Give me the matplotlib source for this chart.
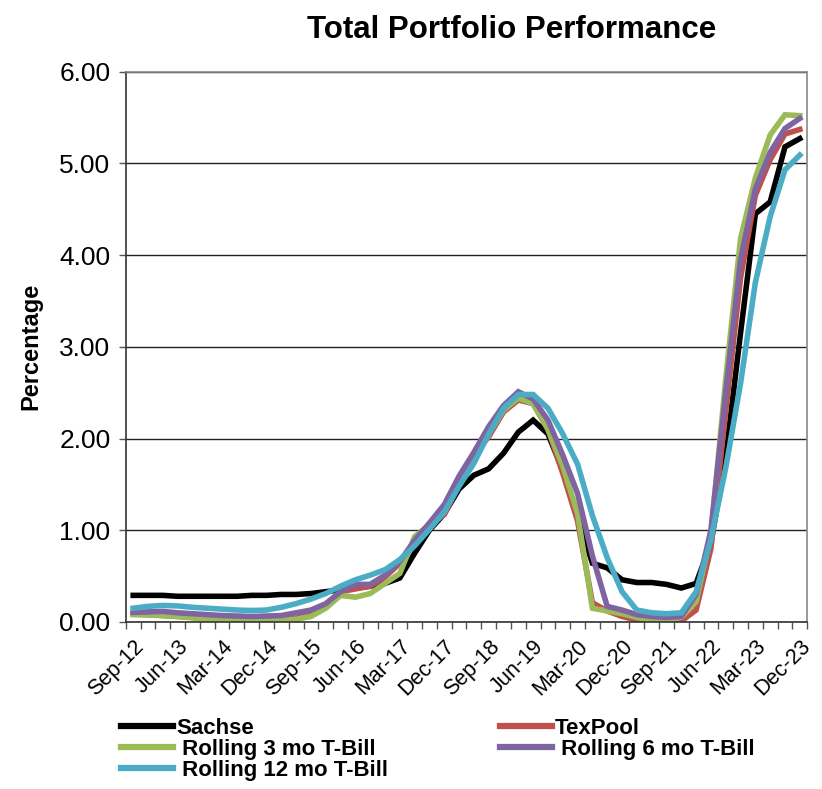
import matplotlib
matplotlib.use("Agg")
import matplotlib.pyplot as plt
import numpy as np

plt.rcParams['font.family'] = ['Liberation Sans', 'DejaVu Sans']

quarters = ["Sep-12", "Dec-12", "Mar-13", "Jun-13", "Sep-13", "Dec-13", "Mar-14", "Jun-14",
            "Sep-14", "Dec-14", "Mar-15", "Jun-15", "Sep-15", "Dec-15", "Mar-16", "Jun-16",
            "Sep-16", "Dec-16", "Mar-17", "Jun-17", "Sep-17", "Dec-17", "Mar-18", "Jun-18",
            "Sep-18", "Dec-18", "Mar-19", "Jun-19", "Sep-19", "Dec-19", "Mar-20", "Jun-20",
            "Sep-20", "Dec-20", "Mar-21", "Jun-21", "Sep-21", "Dec-21", "Mar-22", "Jun-22",
            "Sep-22", "Dec-22", "Mar-23", "Jun-23", "Sep-23", "Dec-23"]

sachse = [0.29, 0.29, 0.29, 0.28, 0.28, 0.28, 0.28, 0.28, 0.29, 0.29, 0.30, 0.30,
          0.31, 0.33, 0.35, 0.37, 0.39, 0.42, 0.48, 0.75, 1.00, 1.18, 1.45, 1.60,
          1.67, 1.84, 2.07, 2.20, 2.05, 1.65, 1.15, 0.64, 0.59, 0.46, 0.43, 0.43,
          0.41, 0.37, 0.42, 0.86, 1.80, 3.15, 4.45, 4.58, 5.18, 5.27]

texpool = [0.09, 0.08, 0.07, 0.06, 0.05, 0.03, 0.04, 0.04, 0.03, 0.02, 0.02, 0.04,
           0.09, 0.17, 0.33, 0.36, 0.39, 0.49, 0.64, 0.88, 1.06, 1.17, 1.50, 1.82,
           2.02, 2.29, 2.42, 2.38, 2.10, 1.62, 1.10, 0.21, 0.12, 0.06, 0.02, 0.00,
           0.00, 0.01, 0.13, 0.80, 2.30, 3.75, 4.65, 5.04, 5.32, 5.37]

tbill_3mo = [0.08, 0.075, 0.07, 0.06, 0.045, 0.025, 0.02, 0.02, 0.02, 0.02, 0.02, 0.03,
             0.06, 0.15, 0.29, 0.27, 0.31, 0.42, 0.53, 0.93, 1.06, 1.20, 1.50, 1.80,
             2.05, 2.31, 2.44, 2.38, 2.10, 1.70, 1.18, 0.15, 0.12, 0.09, 0.05, 0.02,
             0.02, 0.05, 0.22, 0.95, 2.65, 4.18, 4.84, 5.31, 5.53, 5.52]

tbill_6mo = [0.105, 0.11, 0.115, 0.10, 0.09, 0.08, 0.07, 0.065, 0.06, 0.065, 0.07, 0.10,
             0.13, 0.20, 0.33, 0.41, 0.41, 0.51, 0.66, 0.89, 1.08, 1.28, 1.59, 1.85,
             2.13, 2.36, 2.51, 2.43, 2.20, 1.82, 1.40, 0.72, 0.17, 0.13, 0.08, 0.06,
             0.05, 0.06, 0.30, 1.00, 2.50, 3.95, 4.72, 5.12, 5.38, 5.49]

tbill_12mo = [0.15, 0.17, 0.18, 0.175, 0.16, 0.15, 0.14, 0.13, 0.125, 0.13, 0.16, 0.20,
              0.25, 0.31, 0.39, 0.46, 0.51, 0.57, 0.68, 0.83, 1.01, 1.20, 1.48, 1.73,
              2.05, 2.33, 2.48, 2.48, 2.33, 2.05, 1.72, 1.16, 0.70, 0.33, 0.13, 0.10,
              0.09, 0.10, 0.33, 0.90, 1.68, 2.60, 3.70, 4.42, 4.93, 5.09]

series_names = ["Sachse", "TexPool", " Rolling 3 mo T-Bill", " Rolling 6 mo T-Bill", " Rolling 12 mo T-Bill"]
series_values = [sachse, texpool, tbill_3mo, tbill_6mo, tbill_12mo]
series_colors = ["#000000", "#C0504D", "#9BBB59", "#8064A2", "#4BACC6"]

y_ticks = [0, 1, 2, 3, 4, 5, 6]

fig = plt.figure(figsize=(8.22, 7.89), dpi=100)
ax = fig.add_axes([0.153, 0.2117, 0.829, 0.6975])

x = np.arange(len(quarters)) + 0.5
lines = {}
for name, vals, col in zip(series_names, series_values, series_colors):
    ln, = ax.plot(x, vals, color=col, lw=4.0, solid_joinstyle='miter', label=name)
    lines[name] = ln

ax.set_xlim(0, len(quarters))
ax.set_ylim(0, 6)
ax.set_yticks(y_ticks)
ax.set_yticklabels([f"{v:.2f}" for v in y_ticks], fontsize=19)
ax.yaxis.grid(True, color="#222222", lw=1.0)
ax.set_axisbelow(True)

lab_idx = list(range(0, len(quarters), 3))
ax.set_xticks(x[lab_idx])
ax.set_xticklabels([quarters[i] for i in lab_idx], rotation=45, ha='right',
                   rotation_mode='anchor', fontsize=15.5)
ax.set_xticks(np.arange(0, len(quarters) + 1), minor=True)
ax.tick_params(axis='x', which='major', length=0, pad=10)
ax.tick_params(axis='x', which='minor', length=5, width=1, color="#555555", direction='out')
ax.tick_params(axis='y', which='major', length=5, width=1, color="#555555", pad=6)

for s in ['top', 'right']:
    ax.spines[s].set_color("#888888")
    ax.spines[s].set_linewidth(1.2)
for s in ['left', 'bottom']:
    ax.spines[s].set_color("#333333")
    ax.spines[s].set_linewidth(1.2)

ax.set_ylabel("Percentage", fontsize=17, fontweight='bold', labelpad=12)
fig.text(0.623, 0.962, "Total Portfolio Performance", ha='center', va='center',
         fontsize=22.5, fontweight='bold')

order = ["Sachse", " Rolling 3 mo T-Bill", " Rolling 12 mo T-Bill", "TexPool", " Rolling 6 mo T-Bill"]
leg = fig.legend([lines[n] for n in order], order, loc='upper left',
                 bbox_to_anchor=(0.147, 0.090), ncol=2, frameon=False,
                 prop={'weight': 'bold', 'size': 16}, handlelength=2.35,
                 handletextpad=0.15, columnspacing=5.0, labelspacing=0.0,
                 borderaxespad=0, borderpad=0)
for h in leg.legend_handles:
    h.set_linewidth(4.5)

fig.savefig("out.png", dpi=100)
